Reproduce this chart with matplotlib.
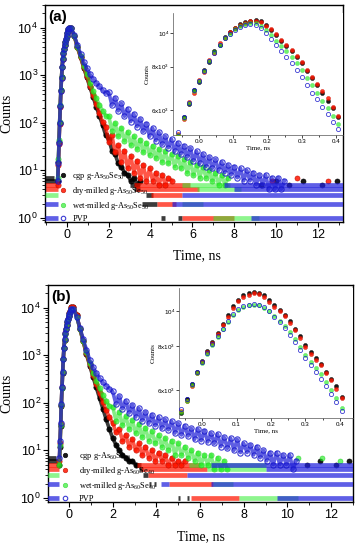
import matplotlib
matplotlib.use("Agg")
import matplotlib.pyplot as plt
from matplotlib.font_manager import FontProperties
from matplotlib.ticker import FixedLocator, MultipleLocator, NullLocator, LogLocator, NullFormatter
import numpy as np

plt.rcParams['font.family'] = ['Liberation Sans', 'DejaVu Sans']
plt.rcParams['mathtext.fontset'] = 'custom'
plt.rcParams['mathtext.rm'] = 'Liberation Sans'
plt.rcParams['mathtext.it'] = 'Liberation Sans:italic'
plt.rcParams['mathtext.bf'] = 'Liberation Sans:bold'
plt.rcParams['mathtext.default'] = 'regular'

# time channels (ns)
t_rise = np.round(np.arange(-0.44, 0.115, 0.03), 3)     # 19 channels
t_decay = np.round(np.arange(0.2, 10.45, 0.15), 3)      # 69 channels
t_inset = np.round(np.arange(-0.06, 0.41, 0.015), 3)    # 32 channels

labels_a = ['cgp g-As$_{50}$Se$_{50}$', 'dry-milled g-As$_{50}$Se$_{50}$',
            'wet-milled g-As$_{50}$Se$_{50}$', 'PVP']
labels_b = ['cgp g-As$_{60}$Se$_{40}$', 'dry-milled g-As$_{60}$Se$_{40}$',
            'wet-milled g-As$_{60}$Se$_{40}$', 'PVP']

# ---------- panel (a) ----------
cgp_rise_a = [6, 15, 40, 100, 230, 480, 900, 1500, 2200, 2900, 3600, 4300, 5000, 5700, 6700, 7700, 8700, 9500, 10000]
dry_rise_a = [5, 13, 36, 95, 220, 470, 880, 1480, 2150, 2850, 3550, 4250, 4950, 5650, 6650, 7650, 8650, 9450, 9950]
wet_rise_a = [7, 17, 44, 105, 240, 500, 920, 1520, 2250, 2950, 3650, 4350, 5050, 5750, 6750, 7750, 8750, 9550, 10050]
pvp_rise_a = [6, 14, 38, 98, 225, 475, 890, 1490, 2180, 2880, 3580, 4280, 4980, 5680, 6680, 7680, 8680, 9480, 9980]

cgp_decay_a = [9800, 6700, 3900, 2400, 1450, 900, 560, 350, 220, 140, 90, 55, 45, 26, 22, 14, 12, 9, 8, 6,
               7, 5, 6]
dry_decay_a = [9700, 6600, 3900, 2400, 1500, 950, 600, 380, 250, 160, 105, 80, 40, 55, 24, 34, 15, 26, 11, 20,
               9, 16, 7, 13, 6, 11, 6, 9, 5, 8, 5, 7, 6]
wet_decay_a = [9700, 6700, 4000, 2500, 1600, 1050, 700, 470, 330, 240, 180, 140,
               137, 68, 99, 52, 78, 42, 64, 34, 52, 28, 44, 24, 38, 21, 33, 18, 28, 15,
               25, 14, 22, 12, 20, 11, 17, 9, 15, 8, 13, 7, 12, 7, 10, 6, 9, 5, 8, 5, 7]
pvp_decay_a = [9900, 6900, 4300, 2800, 1900, 1400, 1050, 830, 680, 580, 490, 420,
               435, 234, 335, 178, 256, 137, 198, 106, 154, 83, 120, 66, 96, 52, 77, 42, 63, 35,
               52, 30, 45, 25, 38, 22, 33, 19, 29, 16, 25, 14, 22, 12, 19, 11, 17, 10, 15, 9,
               13, 8, 12, 7, 11, 6, 10, 6, 9, 5, 8, 5, 8, 4, 7, 4, 7, 4, 6]

# integer-count rows in the tails: (count, t_start, t_end)
cgp_rows_a = [(1, 4.5, 4.7), (1, 5.3, 5.5), (2, 3.6, 4.3), (3, 3.8, 4.1), (4, 3.2, 3.5), (5, 3.0, 3.4),
              (6, -1.05, -0.5), (7, -1.05, -0.6)]
dry_rows_a = [(1, 5.5, 8.0), (2, 4.3, 5.2), (3, 4.0, 5.5), (4, 3.3, 6.3), (5, 3.2, 5.9),
              (4, -1.05, -0.45), (5, -1.05, -0.45)]
wet_rows_a = [(1, 7.0, 9.2), (2, 5.5, 6.5), (4, 6.2, 8.3), (5, 5.5, 7.8), (3, -1.05, -0.45)]
pvp_rows_a = [(1, 8.8, 13.2), (2, 5.0, 13.2), (3, 5.5, 13.2), (4, 8.0, 13.2), (5, 7.5, 13.2),
              (1, -1.05, -0.45), (2, -1.05, -0.45)]

cgp_extra_t_a = [9.3, 10.0, 10.6, 11.3, 12.2, 12.9]
cgp_extra_c_a = [5, 6, 5, 6, 5, 6]
dry_extra_t_a = [9.8, 11.0, 12.5]
dry_extra_c_a = [6, 7, 6]

cgp_in_a = [5050, 5750, 6250, 6850, 7250, 7850, 8250, 8850, 9250, 9750, 10050, 10350, 10600, 10750, 10850, 10900,
            10800, 10550, 10200, 9850, 9500, 9200, 8900, 8550, 8200, 7800, 7450, 7100, 6750, 6400, 6100, 5750]
dry_in_a = [5150, 5650, 6350, 6750, 7350, 7750, 8350, 8750, 9350, 9650, 10050, 10300, 10550, 10700, 10800, 10850,
            10750, 10500, 10250, 9900, 9550, 9250, 8950, 8600, 8250, 7850, 7500, 7150, 6800, 6500, 6150, 5800]
wet_in_a = [5100, 5700, 6300, 6800, 7300, 7800, 8300, 8800, 9250, 9650, 9950, 10250, 10450, 10600, 10650, 10650,
            10500, 10200, 9850, 9500, 9150, 8850, 8550, 8200, 7850, 7450, 7100, 6750, 6400, 6100, 5800, 5500]
pvp_in_a = [5200, 5750, 6300, 6850, 7300, 7800, 8300, 8750, 9250, 9650, 9950, 10200, 10400, 10550, 10600, 10550,
            10350, 10000, 9600, 9250, 8900, 8550, 8200, 7850, 7500, 7100, 6750, 6450, 6150, 5850, 5550, 5300]

# ---------- panel (b) ----------
cgp_rise_b = [5, 12, 32, 85, 200, 430, 820, 1400, 2100, 2850, 3600, 4350, 5100, 5900, 6750, 7600, 8400, 9300, 10300]
dry_rise_b = [6, 14, 35, 90, 210, 440, 840, 1420, 2120, 2870, 3620, 4370, 5120, 5920, 6770, 7620, 8420, 9320, 10250]
wet_rise_b = [5, 13, 34, 88, 205, 435, 830, 1410, 2110, 2860, 3610, 4360, 5110, 5900, 6700, 7450, 8200, 8900, 9600]
pvp_rise_b = [7, 16, 38, 95, 215, 450, 850, 1440, 2150, 2900, 3650, 4400, 5150, 5900, 6700, 7450, 8200, 8900, 9600]

cgp_decay_b = [10500, 7000, 3600, 1950, 1050, 600, 350, 210, 125, 75, 45, 28, 18, 13, 10, 8, 7, 6, 6, 5]
dry_decay_b = [10400, 6900, 3600, 2000, 1100, 640, 390, 250, 160, 105, 70, 50, 38, 24, 28, 16, 21, 12, 17, 10,
               14, 8, 12, 7, 10, 6, 9, 6, 8, 5, 7, 5, 6, 5, 6]
wet_decay_b = [9600, 6500, 3600, 2000, 1150, 680, 430, 290, 200, 145, 110, 85,
               83, 42, 64, 34, 52, 28, 43, 23, 36, 19, 30, 16, 25, 14, 21, 12, 18, 10,
               16, 8, 14, 8, 12, 7, 10, 6, 9, 5, 8, 5, 8, 4, 7, 4, 6, 4]
pvp_decay_b = [9500, 6500, 3800, 2200, 1300, 800, 560, 420, 330, 270, 230, 195,
               174, 94, 138, 75, 110, 61, 90, 50, 76, 42, 64, 37, 56, 33, 50, 29, 45, 27,
               41, 23, 37, 21, 33, 20, 29, 17, 28, 16, 26, 15, 23, 14, 22, 12, 19, 11, 18, 10,
               17, 9, 14, 9, 13, 8, 12, 7, 10, 6, 9, 5, 9, 5, 8, 5, 8, 4, 6]

cgp_rows_b = [(1, 5.0, 5.1), (1, 5.4, 5.5), (2, 3.65, 3.75), (2, 3.9, 4.0), (3, 3.4, 3.6), (4, 3.2, 3.4),
              (5, 3.0, 3.3), (6, -1.0, -0.5), (7, -1.0, -0.6)]
dry_rows_b = [(1, 5.6, 7.8), (2, 4.6, 6.6), (3, 3.6, 5.4), (4, 3.3, 6.3), (5, 3.1, 6.0),
              (4, -1.0, -0.45), (5, -1.0, -0.45)]
wet_rows_b = [(1, 7.8, 10.5), (2, 6.6, 7.5), (4, 6.3, 9.0), (5, 5.5, 9.0), (3, -1.0, -0.45)]
pvp_rows_b = [(1, 9.5, 13.0), (2, 4.2, 4.6), (2, 6.5, 13.0), (3, 5.4, 13.0), (4, 9.0, 13.0), (5, 6.5, 13.0),
              (1, -1.0, -0.45), (2, -1.0, -0.45)]

cgp_extra_t_b = [10.9, 11.5, 12.2, 12.8]
cgp_extra_c_b = [5, 6, 5, 6]
wet_extra_t_b = [10.5, 11.6, 12.4]
wet_extra_c_b = [7, 7, 6]

cgp_in_b = [5150, 5650, 6250, 6750, 7250, 7750, 8200, 8700, 9200, 9750, 10350, 10800, 11100, 11300, 11350, 11300,
            11100, 10750, 10400, 10100, 9800, 9400, 8950, 8500, 8050, 7700, 7400, 7100, 6750, 6450, 6150, 5750]
dry_in_b = [5250, 5600, 6150, 6700, 7200, 7700, 8150, 8650, 9150, 9650, 10250, 10700, 11000, 11150, 11250, 11200,
            11000, 10650, 10300, 10000, 9700, 9300, 8850, 8400, 7950, 7600, 7300, 7050, 6700, 6400, 6050, 5700]
wet_in_b = [5200, 5600, 6200, 6700, 7150, 7600, 8050, 8450, 8900, 9350, 9800, 10100, 10300, 10400, 10450, 10400,
            10250, 10000, 9700, 9400, 9100, 8750, 8350, 7950, 7550, 7200, 6900, 6650, 6300, 6000, 5700, 5350]
pvp_in_b = [5300, 5650, 6250, 6750, 7200, 7650, 8100, 8500, 8950, 9400, 9850, 10150, 10350, 10450, 10500, 10450,
            10300, 10000, 9650, 9350, 9000, 8600, 8200, 7800, 7400, 7050, 6750, 6450, 6150, 5850, 5550, 5250]

# styles: cgp, dry, wet, pvp
face = ['black', '#ff1500', '#22ee22', 'none']
edge = ['black', '#c81000', '#20d020', '#1a1acc']
line_col = ['black', '#ff1500', '#22e022', '#2020d8']
band_col = ['black', '#ff1500', '#33ee33', '#2222dd']
alphas = [0.9, 0.85, 0.65, 0.85]

serif = 'Liberation Serif'


def draw_panel(ax, rises, decays, rows, extras, labels, xlim, letter, leg_x, leg_pad):
    for i in range(4):
        t = np.concatenate([t_rise, t_decay[:len(decays[i])]])
        c = np.concatenate([rises[i], decays[i]]).astype(float)
        for lev, t0, t1 in rows[i]:
            ax.hlines(lev, t0, t1, colors=band_col[i], lw=3.4, alpha=alphas[i] * 0.85, zorder=1 + i)
        ax.plot(t, c, '-', color=line_col[i], lw=2.6, alpha=alphas[i] * 0.85, zorder=1 + i)
        ax.plot(t, c, 'o', ms=3.8, mfc=face[i], mec=edge[i], mew=0.8 if i == 3 else 0.5,
                alpha=alphas[i], label=labels[i], zorder=1 + i)
        if extras[i] is not None:
            ax.plot(extras[i][0], extras[i][1], 'o', ms=3.6, mfc=face[i], mec=edge[i],
                    mew=0.5, alpha=alphas[i], zorder=1 + i)
    ax.set_yscale('log')
    ax.set_xlim(*xlim)
    ax.set_ylim(0.82, 30000)
    ax.xaxis.set_major_locator(MultipleLocator(2))
    ax.xaxis.set_minor_locator(MultipleLocator(1))
    ax.yaxis.set_major_locator(LogLocator(base=10, numticks=10))
    ax.yaxis.set_minor_locator(LogLocator(base=10, subs=np.arange(2, 10), numticks=10))
    ax.yaxis.set_minor_formatter(NullFormatter())
    ax.tick_params(which='major', direction='out', length=3.5, width=0.8, labelsize=9, pad=1.5)
    ax.tick_params(which='minor', direction='out', length=2, width=0.6)
    for s in ax.spines.values():
        s.set_linewidth(1.0)
    ax.set_xlabel('Time, ns', family=serif, fontsize=10)
    ax.set_ylabel('Counts', family=serif, fontsize=10)
    ax.text(0.012, 0.975, letter, transform=ax.transAxes, fontsize=11, fontweight='bold',
            va='top', ha='left')
    prop = FontProperties(family=serif, size=6, math_fontfamily='stix')
    ax.legend(loc='lower left', bbox_to_anchor=(leg_x, -0.005), frameon=False, prop=prop,
              handlelength=1.0, handletextpad=leg_pad, labelspacing=0.35, borderpad=0,
              borderaxespad=0, markerscale=0.85)


def draw_inset(ax, curves, xlim, ylim):
    ax.set_facecolor('white')
    for i in range(4):
        ax.plot(t_inset, curves[i], 'o', ms=3.0, mfc=face[i], mec=edge[i],
                mew=0.6 if i == 3 else 0.3, alpha=alphas[i], zorder=2 + i)
    ax.set_yscale('log')
    ax.set_xlim(*xlim)
    ax.set_ylim(*ylim)
    ax.yaxis.set_major_locator(FixedLocator([6000, 8000, 10000]))
    ax.yaxis.set_major_formatter(plt.FixedFormatter(['6x10$^3$', '8x10$^3$', '10$^4$']))
    ax.yaxis.set_minor_locator(NullLocator())
    ax.xaxis.set_major_locator(MultipleLocator(0.1))
    ax.xaxis.set_minor_locator(MultipleLocator(0.05))
    ax.xaxis.set_major_formatter(plt.FormatStrFormatter('%.1f'))
    ax.tick_params(which='both', direction='out', labelsize=4.5, length=2, width=0.5, pad=1)
    ax.tick_params(which='minor', length=1.2)
    for side in ['top', 'right']:
        ax.spines[side].set_visible(False)
    for side in ['left', 'bottom']:
        ax.spines[side].set_linewidth(0.5)
        ax.spines[side].set_color('#555555')
    ax.set_xlabel('Time, ns', family=serif, fontsize=5, labelpad=1)
    ax.set_ylabel('Counts', family=serif, fontsize=5, labelpad=1)


fig = plt.figure(figsize=(3.62, 5.5), dpi=100)

ax_a = fig.add_axes([0.1243, 0.5964, 0.8232, 0.3945])
draw_panel(ax_a,
           [cgp_rise_a, dry_rise_a, wet_rise_a, pvp_rise_a],
           [cgp_decay_a, dry_decay_a, wet_decay_a, pvp_decay_a],
           [cgp_rows_a, dry_rows_a, wet_rows_a, pvp_rows_a],
           [(cgp_extra_t_a, cgp_extra_c_a), (dry_extra_t_a, dry_extra_c_a), None, None],
           labels_a, (-1.05, 13.2), '(a)', 0.047, 0.6)
ax_a.xaxis.set_label_coords(0.51, -0.125)
ax_a.yaxis.set_label_coords(-0.107, 0.5)

ax_b = fig.add_axes([0.1326, 0.0873, 0.8425, 0.3945])
draw_panel(ax_b,
           [cgp_rise_b, dry_rise_b, wet_rise_b, pvp_rise_b],
           [cgp_decay_b, dry_decay_b, wet_decay_b, pvp_decay_b],
           [cgp_rows_b, dry_rows_b, wet_rows_b, pvp_rows_b],
           [(cgp_extra_t_b, cgp_extra_c_b), None, (wet_extra_t_b, wet_extra_c_b), None],
           labels_b, (-0.96, 13.0), '(b)', 0.043, 1.1)
ax_b.xaxis.set_label_coords(0.5, -0.13)
ax_b.yaxis.set_label_coords(-0.115, 0.5)

ins_a = fig.add_axes([0.4779, 0.7545, 0.4696, 0.2218])
draw_inset(ins_a, [cgp_in_a, dry_in_a, wet_in_a, pvp_in_a], (-0.076, 0.42), (5100, 11400))

ins_b = fig.add_axes([0.4945, 0.24, 0.4807, 0.2364])
draw_inset(ins_b, [cgp_in_b, dry_in_b, wet_in_b, pvp_in_b], (-0.067, 0.438), (5000, 11650))

fig.savefig('out.png', dpi=100)
